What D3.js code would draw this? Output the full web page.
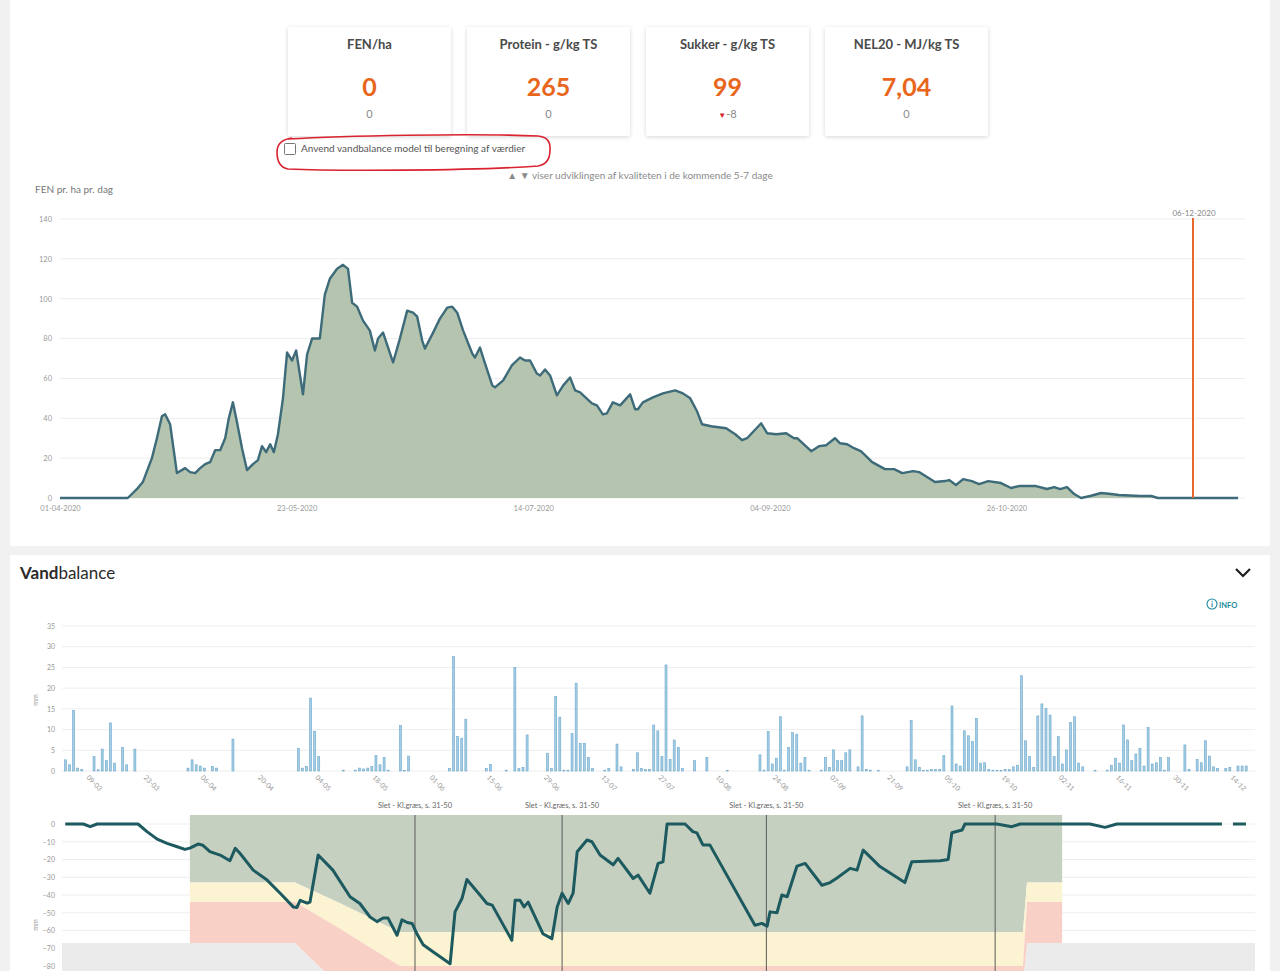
<!DOCTYPE html>
<html>
<head>
<meta charset="utf-8">
<style>
  body { margin: 0; background: #f1f1f1; }
  svg text { font-family: Lato, "Open Sans", sans-serif; }
</style>
<title>Græsprognose og vandbalance</title>
</head>
<body>
<svg id="page" width="1280" height="971"></svg>
<script src="https://cdn.jsdelivr.net/npm/d3@7"></script>
<script>
// ---- data ----
var cardTitles = ["FEN/ha", "Protein - g/kg TS", "Sukker - g/kg TS", "NEL20 - MJ/kg TS"];
var cardValues = ["0", "265", "99", "7,04"];
var cardChanges = ["0", "0", "-8", "0"];
var cardArrows = ["", "", "▼", ""];

var checkboxText = "Anvend vandbalance model til beregning af værdier";
var hintText = "▲ ▼ viser udviklingen af kvaliteten i de kommende 5-7 dage";

// FEN per ha per day, days counted from 1 April 2020
var fenStart = new Date(2020, 3, 1);
var fenDay = [0, 14.9, 17.1, 18.2, 20.2, 21.3, 22.4, 23.1, 24.2, 25.7, 27.5, 28.6, 29.7, 30.8, 31.9, 33, 34.1, 35.2, 36.3, 37.1,
  38, 38.9, 40, 41.1, 42.4, 43.5, 44.4, 45.3, 46.2, 47, 47.9, 49, 49.9, 51, 51.9, 53.4, 54.3, 55.4, 57.1, 58.2,
  59.3, 60.9, 62.2, 63.3, 64.2, 65.3, 66.6, 68.1, 69.2, 69.9, 71, 73.2, 74.7, 76.3, 77.6, 78.5, 79.6, 80.2, 82, 83.5,
  85.1, 86.2, 87.3, 88.6, 90.6, 91.2, 92.3, 93.4, 95, 95.6, 97.4, 99.3, 101.1, 102.2, 103.3, 104.8, 105.5, 106.6, 107.7, 109.2,
  110.6, 112.1, 113.2, 114.3, 116.9, 118, 119.3, 120.2, 121.5, 123.1, 125.3, 126.4, 127, 128.1, 130.3, 132.5, 135.2, 136.9, 138.5, 140,
  141.1, 143.1, 146.4, 148.4, 149.9, 151, 154.1, 155.4, 157.4, 159.6, 161.3, 162, 165.1, 166.8, 168.4, 170.3, 171.4, 173, 174.5, 176,
  178.5, 181.3, 183.3, 185.1, 187.5, 188.8, 192.3, 194.5, 195.4, 196.9, 198.5, 200.4, 202, 204, 206.8, 209, 210.8, 214.5, 216.9, 218.5,
  219.8, 221.3, 222.9, 224.4, 226.4, 228.8, 231, 232.7, 237.4, 239.8, 241.3, 258.9];
var fenValue = [0, 0, 5, 8, 20, 30, 41, 42, 37, 12.5, 15, 13, 12.5, 15, 17, 18, 24, 24, 30, 40,
  48, 38, 25, 14, 17, 19, 26, 23, 27, 23, 32, 50, 73, 69, 74, 52, 72, 80, 80, 102,
  110, 115, 117, 115, 98, 96, 89, 84, 74, 80, 83, 68, 80, 94, 93, 91, 79, 75, 83, 90,
  95.5, 96, 93, 84, 72.5, 70.5, 75.5, 67.5, 56.5, 55.5, 59, 66.5, 70.5, 69, 69, 62.5, 61.5, 64.5, 61.5, 51.5,
  56.5, 60.5, 54, 53, 47.5, 46.5, 42, 42.5, 48, 46.5, 52, 44.5, 44.5, 48, 50.5, 52.5, 54, 52.5, 50, 43.5,
  37, 36, 35, 32, 29, 30, 37.5, 32.5, 32, 32.5, 30, 30, 23.5, 26, 26.5, 30, 27.5, 27, 25, 23.5,
  18, 14.5, 14.5, 12.5, 13.5, 13, 8, 8.5, 9, 6.5, 9.5, 8.5, 7, 8.5, 7.5, 5, 6, 6, 4.5, 5.5,
  4.5, 5.5, 2, 0, 1, 2.5, 2, 1.5, 1, 1, 0, 0];
var fenTicks = ["01-04-2020", "23-05-2020", "14-07-2020", "04-09-2020", "26-10-2020"];
var fenYTicks = [0, 20, 40, 60, 80, 100, 120, 140];
var todayLabel = "06-12-2020";

// Vandbalance, days counted from 1 March 2020
var seasonStart = new Date(2020, 2, 1);
var rainDay = [3, 4, 5, 6, 7, 10, 11, 12, 13, 14, 15, 17, 18, 20, 33, 34, 35, 36, 37, 39,
  40, 44, 60, 61, 62, 63, 64, 65, 71, 74, 75, 76, 77, 78, 79, 80, 81, 82, 85, 86,
  87, 97, 98, 99, 100, 101, 106, 107, 111, 113, 114, 115, 116, 121, 122, 123, 124, 125, 126, 127,
  128, 129, 130, 131, 132, 135, 136, 138, 139, 142, 143, 144, 145, 146, 147, 148, 149, 150, 151, 152,
  153, 154, 157, 160, 165, 173, 174, 175, 176, 177, 178, 179, 180, 181, 182, 183, 184, 185, 188, 189,
  190, 191, 192, 193, 194, 195, 197, 198, 199, 200, 202, 209, 210, 211, 212, 213, 214, 215, 216, 217,
  218, 220, 221, 222, 223, 224, 225, 226, 227, 228, 229, 230, 231, 232, 233, 234, 235, 236, 237, 238,
  239, 240, 241, 242, 243, 244, 245, 246, 247, 248, 249, 250, 251, 252, 255, 258, 259, 260, 261, 262,
  263, 264, 265, 266, 267, 268, 269, 270, 271, 272, 273, 277, 278, 280, 281, 282, 283, 284, 285, 287,
  288, 290, 291, 292];
var rainMm = [2.7, 1.5, 14.6, 0.7, 0.4, 3.5, 0.3, 5.3, 2.5, 11.6, 1.9, 5.7, 1.5, 5.3, 0.7, 2.7, 1.5, 1.2, 0.7, 1.1,
  0.7, 7.7, 5.5, 0.7, 1.1, 17.6, 9.6, 3.5, 0.2, 0.2, 0.7, 0.5, 0.7, 1.1, 3.7, 1.5, 3.3, 0.2, 11, 0.1,
  3.6, 0.6, 27.6, 8.3, 7.9, 12.5, 0.6, 1.6, 0.2, 25, 0.6, 0.9, 8.7, 4.3, 0.6, 18, 13, 0.2, 0.2, 9.1,
  21.2, 6.7, 6.7, 3.3, 0.6, 0.2, 0.6, 6.5, 1, 0.4, 4.4, 0.6, 0.4, 0.4, 11.1, 9.7, 3.5, 25.6, 2.8, 7.5,
  5.7, 0.6, 2.5, 3.3, 0.1, 3.9, 0.2, 9.5, 1.7, 3.1, 13.1, 0.2, 5.7, 9.3, 8.9, 1.9, 3.3, 0.2, 0.2, 3.3,
  0.9, 5.1, 2.5, 2.5, 4.4, 5.1, 1, 13.3, 0.4, 0.2, 0.1, 1, 12.2, 2.7, 0.9, 0.1, 0.2, 0.4, 0.4, 0.4,
  3.7, 15.7, 1.7, 1.2, 9.7, 8.5, 7.1, 12.7, 1.9, 2, 0.4, 0.2, 0.1, 0.1, 0.4, 0.4, 1, 1.4, 23, 7.3,
  3.5, 0.9, 13.3, 16.2, 15.1, 13.5, 3.5, 8.3, 1.7, 5.1, 11.7, 13.1, 1.9, 1, 0.1, 0.2, 1.4, 3.1, 1.9, 11.1,
  7.5, 2.5, 4.1, 5.5, 1.2, 10.5, 1.7, 2, 3.3, 0.2, 3.3, 6.3, 0.4, 2.8, 2, 7.3, 3.6, 1, 0.6, 0.6,
  0.9, 1.2, 1.2, 1.2];
var rainTicks = ["09-03", "23-03", "06-04", "20-04", "04-05", "18-05", "01-06", "15-06", "29-06", "13-07", "27-07",
  "10-08", "24-08", "07-09", "21-09", "05-10", "19-10", "02-11", "16-11", "30-11", "14-12"];
var rainYTicks = [0, 5, 10, 15, 20, 25, 30, 35];

var balanceDay = [3.4, 7.8, 9.5, 11.2, 21.2, 23.4, 25.9, 28.3, 30.8, 32.7, 33.9, 35.9, 37.1, 38.8, 41.3, 43.7, 45, 46.2, 49.4, 52.8,
  56, 59.2, 60.1, 60.9, 62.6, 63.3, 65.3, 68.9, 73.1, 75.5, 78, 79.7, 81.2, 82.4, 84.6, 85.8, 87.1, 88.3, 89.5, 91,
  93.4, 97.6, 98.8, 100.5, 101.7, 104.9, 106.6, 107.9, 112.7, 113.5, 114.7, 115.7, 116.7, 120.3, 122.5, 123.8, 125, 126.5, 127.7, 128.7,
  131.1, 132.3, 134.3, 137.5, 138.7, 142.4, 143.6, 146.5, 148.5, 149.7, 150.7, 155.1, 157, 158, 159.5, 161.2, 172.2, 173.9, 175.2, 175.9,
  177.6, 178.8, 180.1, 182.5, 184.5, 188.6, 190.6, 192.3, 195.5, 197.2, 198.7, 202.8, 208.9, 210.6, 217.5, 219.5, 220.4, 222.9, 223.6, 231.4,
  235.1, 237.1, 254.2, 257.9, 260.8, 286.5, 287.8, 289.2, 292.4];
var balanceMm = [0, 0, -1.5, 0, 0, -4.3, -8.5, -10.9, -12.8, -14.3, -13.6, -11.3, -12, -15.6, -17.5, -20.7, -13.7, -16.6, -26, -31.6,
  -39, -46.7, -47, -43, -44.6, -44, -17.5, -26, -41, -44.8, -52.4, -55, -53, -53, -62.7, -54, -55.5, -56, -62, -68,
  -72, -78.7, -49.5, -42, -31.3, -40, -44.8, -45.7, -65.5, -43, -43, -46.7, -44, -61.8, -64.6, -46.7, -39, -44.8, -39, -15.6,
  -9, -10, -17.5, -23, -19.4, -30.7, -28.8, -39, -22.2, -21.3, 0, 0, -4.3, -5, -11.9, -11.9, -57, -56, -57.5, -49.5,
  -50, -40, -41, -23.7, -22.2, -34.5, -33, -30.4, -25, -26, -14.7, -24, -33, -21.3, -20.7, -20, -4.9, -3.4, 0, 0,
  -1.5, 0, 0, -1.9, 0, 0, null, 0, 0];
var balanceYTicks = [0, -10, -20, -30, -40, -50, -60, -70, -80];

// soil water zones (mm): green above "warn", yellow down to "risk", red down to "dry", grey below
var zoneDay = [33.9, 59.6, 70, 85.3, 237.8, 238.8, 247.4];
var zoneWarn = [-33, -33, -44, -61, -61, -33, -33];
var zoneRisk = [-44, -44, -58, -80, -80, -44, -44];
var zoneDry = [-67, -67, -90, -90, -90, -67, -67];
var greyDay = [2.6, 59.6, 70, 237.8, 238.8, 294.6];
var greyTop = [-67, -67, -90, -90, -67, -67];

var cutDates = ["29-05-2020", "04-07-2020", "23-08-2020", "18-10-2020"];
var cutLabel = "Slet - Kl.græs, s. 31-50";

// ---- helpers ----
function dayAfter(start, d) {
  return new Date(+start + d * 864e5);
}
var parseDate = d3.timeParse("%d-%m-%Y");

var svg = d3.select("#page");

var shadow = svg.append("defs").append("filter")
  .attr("id", "shadow").attr("x", "-10%").attr("y", "-10%").attr("width", "120%").attr("height", "130%");
shadow.append("feDropShadow")
  .attr("dx", 0).attr("dy", 1).attr("stdDeviation", 2)
  .attr("flood-color", "#000").attr("flood-opacity", 0.16);

// panels
svg.append("rect").attr("x", 10).attr("y", 0).attr("width", 1260).attr("height", 546).attr("fill", "#fff");
svg.append("rect").attr("x", 10).attr("y", 555).attr("width", 1260).attr("height", 420).attr("fill", "#fff");

// ---- summary cards ----
var cardX = d3.scaleBand().domain(cardTitles).range([288, 988]).paddingInner(0.09);
var cards = svg.selectAll("g.card")
  .data(cardTitles)
  .enter().append("g")
  .attr("class", "card")
  .attr("transform", function(d) { return "translate(" + cardX(d) + ",27)"; });

cards.append("rect")
  .attr("width", cardX.bandwidth())
  .attr("height", 109)
  .attr("rx", 2)
  .attr("fill", "#fff")
  .attr("filter", "url(#shadow)");

cards.append("text")
  .attr("x", cardX.bandwidth() / 2)
  .attr("y", 22)
  .attr("text-anchor", "middle")
  .style("font-size", "13px")
  .style("font-weight", "bold")
  .style("fill", "#4a4a4a")
  .text(function(d) { return d; });

cards.append("text")
  .attr("x", cardX.bandwidth() / 2)
  .attr("y", 69)
  .attr("text-anchor", "middle")
  .style("font-size", "25px")
  .style("font-weight", "bold")
  .style("fill", "#e8661c")
  .text(function(d, i) { return cardValues[i]; });

var subText = cards.append("text")
  .attr("x", cardX.bandwidth() / 2)
  .attr("y", 91)
  .attr("text-anchor", "middle")
  .style("font-size", "11px")
  .style("fill", "#8a8a8a");
subText.append("tspan")
  .style("fill", "#d8232a")
  .style("font-size", "8px")
  .text(function(d, i) { return cardArrows[i]; });
subText.append("tspan")
  .text(function(d, i) { return cardChanges[i]; });

// checkbox + hand drawn red mark
svg.append("rect")
  .attr("x", 284.5).attr("y", 143.5).attr("width", 11).attr("height", 11).attr("rx", 1)
  .attr("fill", "#fff").attr("stroke", "#777");
svg.append("text")
  .attr("x", 301).attr("y", 152)
  .style("font-size", "10px").style("fill", "#555")
  .text(checkboxText);
svg.append("path")
  .attr("d", "M288,139 C340,136 470,133 538,136 Q551,137 550,150 Q550,164 538,166 C470,171 330,171 288,169 Q277,167 277,152 Q277,140 292,138")
  .attr("fill", "none").attr("stroke", "#d92330").attr("stroke-width", 1.6);

svg.append("text")
  .attr("x", 640).attr("y", 179)
  .attr("text-anchor", "middle")
  .style("font-size", "10px").style("fill", "#8a8a8a")
  .text(hintText);

// ---- FEN chart ----
svg.append("text")
  .attr("x", 35).attr("y", 193)
  .style("font-size", "10px").style("fill", "#777")
  .text("FEN pr. ha pr. dag");

var xF = d3.scaleTime().domain([fenStart, dayAfter(fenStart, 259)]).range([60, 1238.5]);
var yF = d3.scaleLinear().domain([0, 140]).range([498, 219]);

var fenGroup = svg.append("g");
fenGroup.selectAll("line.grid")
  .data(fenYTicks)
  .enter().append("line")
  .attr("x1", 60).attr("x2", 1245)
  .attr("y1", function(d) { return yF(d); })
  .attr("y2", function(d) { return yF(d); })
  .style("stroke", "#ececec");

var fenAxisY = fenGroup.append("g")
  .attr("transform", "translate(60,0)")
  .call(d3.axisLeft(yF).tickValues(fenYTicks).tickSize(0).tickPadding(8));
fenAxisY.select(".domain").remove();
fenAxisY.selectAll("text").style("font-size", "7.5px").style("fill", "#999");

var fenData = fenDay.map(function(d, i) { return { date: dayAfter(fenStart, d), v: fenValue[i] }; });

fenGroup.append("path")
  .datum(fenData)
  .attr("d", d3.area()
    .x(function(d) { return xF(d.date); })
    .y0(yF(0))
    .y1(function(d) { return yF(d.v); }))
  .style("fill", "#b5c4ae");

fenGroup.append("path")
  .datum(fenData)
  .attr("d", d3.line()
    .x(function(d) { return xF(d.date); })
    .y(function(d) { return yF(d.v); }))
  .style("fill", "none")
  .style("stroke", "#3d6b79")
  .style("stroke-width", 2.4)
  .style("stroke-linejoin", "round");

var fenAxisX = fenGroup.append("g")
  .attr("transform", "translate(0,498)")
  .call(d3.axisBottom(xF)
    .tickValues(fenTicks.map(parseDate))
    .tickFormat(d3.timeFormat("%d-%m-%Y"))
    .tickSize(0).tickPadding(8));
fenAxisX.select(".domain").remove();
fenAxisX.selectAll("text").style("font-size", "7.5px").style("fill", "#999");

// today marker
var todayX = xF(parseDate(todayLabel));
fenGroup.append("line")
  .attr("x1", todayX).attr("x2", todayX)
  .attr("y1", 216).attr("y2", 498)
  .style("stroke", "#e8692c").style("stroke-width", 2);
fenGroup.append("rect")
  .attr("x", todayX - 24).attr("y", 207).attr("width", 50).attr("height", 11)
  .attr("fill", "#fff");
fenGroup.append("text")
  .attr("x", todayX + 1).attr("y", 216)
  .attr("text-anchor", "middle")
  .style("font-size", "8px").style("fill", "#888")
  .text(todayLabel);

// ---- Vandbalance ----
var title = svg.append("text").attr("x", 20).attr("y", 579)
  .style("font-size", "17px").style("fill", "#2b2b2b");
title.append("tspan").style("font-weight", "bold").text("Vand");
title.append("tspan").text("balance");

svg.append("path")
  .attr("d", "M1236,569 L1243,576 L1250,569")
  .attr("fill", "none").attr("stroke", "#1e1e1e").attr("stroke-width", 2.2);

svg.append("circle")
  .attr("cx", 1212).attr("cy", 604).attr("r", 5)
  .attr("fill", "none").attr("stroke", "#1b8a9b").attr("stroke-width", 1.1);
svg.append("text")
  .attr("x", 1212).attr("y", 607)
  .attr("text-anchor", "middle")
  .style("font-size", "8px").style("font-weight", "bold").style("fill", "#1b8a9b")
  .text("i");
svg.append("text")
  .attr("x", 1219).attr("y", 607.5)
  .style("font-size", "7.5px").style("font-weight", "bold").style("fill", "#1b8a9b")
  .text("INFO");

var xS = d3.scaleTime()
  .domain([dayAfter(seasonStart, 2.6), dayAfter(seasonStart, 294.6)])
  .range([62, 1255]);

// precipitation
var yR = d3.scaleLinear().domain([0, 35]).range([771, 626]);
var rainGroup = svg.append("g");

rainGroup.selectAll("line.grid")
  .data(rainYTicks)
  .enter().append("line")
  .attr("x1", 62).attr("x2", 1255)
  .attr("y1", function(d) { return yR(d); })
  .attr("y2", function(d) { return yR(d); })
  .style("stroke", "#eeeeee");

var rainAxisY = rainGroup.append("g")
  .attr("transform", "translate(62,0)")
  .call(d3.axisLeft(yR).tickValues(rainYTicks).tickSize(0).tickPadding(7));
rainAxisY.select(".domain").remove();
rainAxisY.selectAll("text").style("font-size", "7px").style("fill", "#999");

rainGroup.append("text")
  .attr("transform", "translate(38,700) rotate(-90)")
  .attr("text-anchor", "middle")
  .style("font-size", "7px").style("fill", "#999")
  .text("mm");

rainGroup.selectAll("rect.bar")
  .data(rainDay)
  .enter().append("rect")
  .attr("class", "bar")
  .attr("x", function(d) { return xS(dayAfter(seasonStart, d)) + 0.8; })
  .attr("y", function(d, i) { return yR(rainMm[i]); })
  .attr("width", 2)
  .attr("height", function(d, i) { return yR(0) - yR(rainMm[i]); })
  .style("fill", "#a3cde4")
  .style("stroke", "#6ea9cc")
  .style("stroke-width", 0.6);

var rainAxisX = rainGroup.append("g")
  .attr("transform", "translate(0,771)")
  .call(d3.axisBottom(xS)
    .tickValues(rainTicks.map(function(t) { return parseDate(t + "-2020"); }))
    .tickFormat(d3.timeFormat("%d-%m"))
    .tickSize(0));
rainAxisX.select(".domain").remove();
rainAxisX.selectAll("text")
  .attr("x", 6).attr("y", 4).attr("dy", 0)
  .attr("transform", "rotate(45)")
  .style("text-anchor", "start")
  .style("font-size", "7px").style("fill", "#999");

// water balance
var yB = d3.scaleLinear().domain([0, -80]).range([824, 966]);
var plotTop = 815;
var balGroup = svg.append("g");

balGroup.selectAll("line.grid")
  .data(balanceYTicks)
  .enter().append("line")
  .attr("x1", 62).attr("x2", 1255)
  .attr("y1", function(d) { return yB(d); })
  .attr("y2", function(d) { return yB(d); })
  .style("stroke", "#eeeeee");

var greyData = greyDay.map(function(d, i) { return { date: dayAfter(seasonStart, d), top: greyTop[i] }; });
balGroup.append("path")
  .datum(greyData)
  .attr("d", d3.area()
    .x(function(d) { return xS(d.date); })
    .y0(980)
    .y1(function(d) { return yB(d.top); }))
  .style("fill", "#ebebeb");

var zoneData = zoneDay.map(function(d, i) {
  return { date: dayAfter(seasonStart, d), warn: zoneWarn[i], risk: zoneRisk[i], dry: zoneDry[i] };
});
var zones = [
  { fill: "#c6d0c0", top: function() { return plotTop; }, bottom: function(d) { return yB(d.warn); } },
  { fill: "#fbf3d2", top: function(d) { return yB(d.warn); }, bottom: function(d) { return yB(d.risk); } },
  { fill: "#f9d0c6", top: function(d) { return yB(d.risk); }, bottom: function(d) { return yB(d.dry); } }
];
zones.forEach(function(z) {
  balGroup.append("path")
    .datum(zoneData)
    .attr("d", d3.area()
      .x(function(d) { return xS(d.date); })
      .y0(z.bottom)
      .y1(z.top))
    .style("fill", z.fill);
});

var balAxisY = balGroup.append("g")
  .attr("transform", "translate(62,0)")
  .call(d3.axisLeft(yB).tickValues(balanceYTicks).tickSize(0).tickPadding(7));
balAxisY.select(".domain").remove();
balAxisY.selectAll("text").style("font-size", "7px").style("fill", "#999");

balGroup.append("text")
  .attr("transform", "translate(38,925) rotate(-90)")
  .attr("text-anchor", "middle")
  .style("font-size", "7px").style("fill", "#999")
  .text("mm");

// cuts
var cuts = balGroup.selectAll("g.cut")
  .data(cutDates.map(parseDate))
  .enter().append("g")
  .attr("transform", function(d) { return "translate(" + xS(d) + ",0)"; });
cuts.append("line")
  .attr("y1", plotTop).attr("y2", 975)
  .style("stroke", "#5a5a5a").style("stroke-width", 1);
cuts.append("text")
  .attr("y", 808)
  .attr("text-anchor", "middle")
  .style("font-size", "7.5px").style("fill", "#666")
  .text(cutLabel);

var balanceData = balanceDay.map(function(d, i) { return { date: dayAfter(seasonStart, d), v: balanceMm[i] }; });
balGroup.append("path")
  .datum(balanceData)
  .attr("d", d3.line()
    .defined(function(d) { return d.v !== null; })
    .x(function(d) { return xS(d.date); })
    .y(function(d) { return yB(d.v); }))
  .style("fill", "none")
  .style("stroke", "#1c5a5f")
  .style("stroke-width", 3)
  .style("stroke-linejoin", "round");
</script>
</body>
</html>
